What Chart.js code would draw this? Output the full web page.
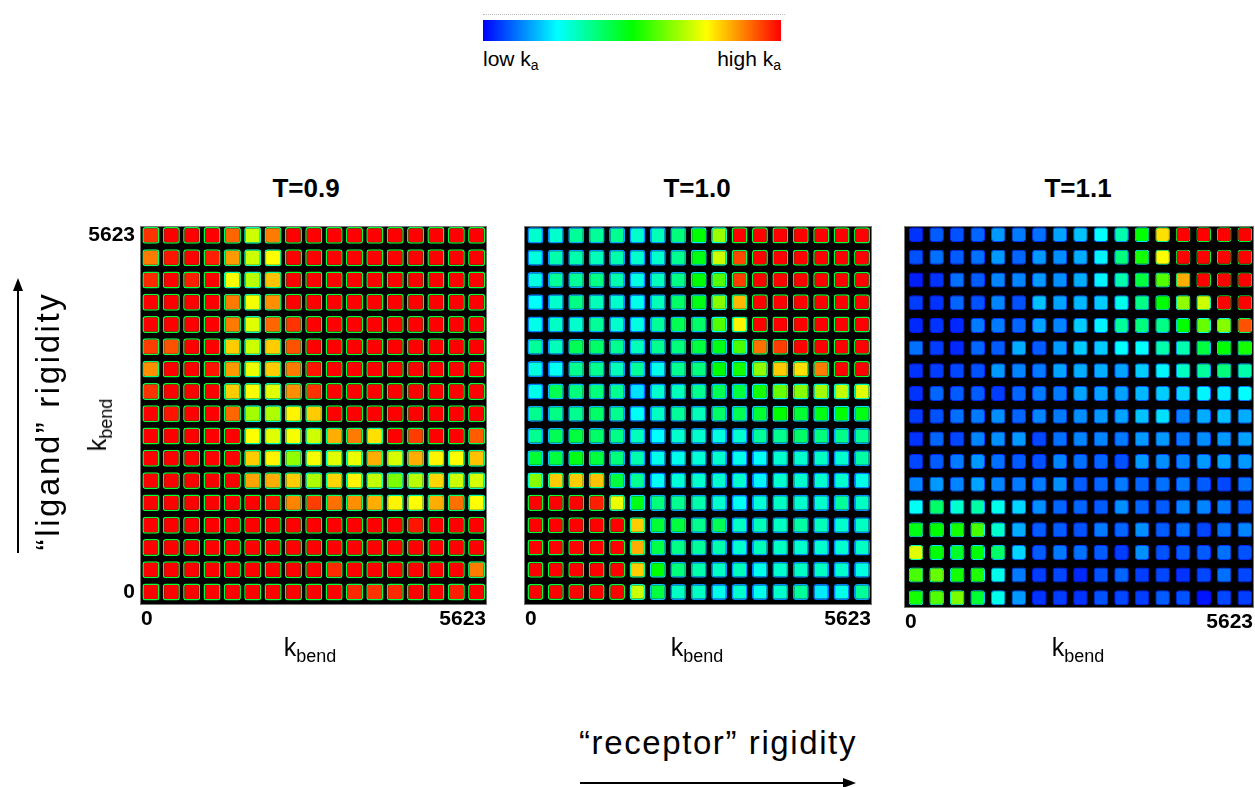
<!DOCTYPE html>
<html>
<head>
<meta charset="utf-8">
<script src="https://cdn.jsdelivr.net/npm/chart.js@4.4.1/dist/chart.umd.min.js"></script>
<style>
  body { margin: 0; width: 1255px; height: 787px; position: relative; overflow: hidden; background: #fff;
         font-family: "Liberation Sans", Arial, sans-serif; color: #000; }
  canvas { position: absolute; }
  .lbl { position: absolute; white-space: nowrap; transform: translate(-50%, -50%); }
  .title { font-weight: bold; font-size: 26px; }
  .kb { font-size: 25px; }
  .kb sub { font-size: 18px; vertical-align: -6px; }
  .rot { transform: translate(-50%, -50%) rotate(-90deg); }
  .big { font-size: 33px; }
  .cb { position: absolute; left: 483px; top: 20px; width: 298px; height: 21px; }
  .cbline { position: absolute; left: 483px; top: 14px; width: 302px; border-top: 1px dotted #bbb; }
  .cblab { position: absolute; top: 47px; font-size: 21px; }
  .cblab sub { font-size: 14px; vertical-align: -4px; }
</style>
</head>
<body>

<div class="cbline"></div>
<div class="cb" id="cbar"></div>
<div class="cblab" style="left:483px">low k<sub>a</sub></div>
<div class="cblab" style="right:474px">high k<sub>a</sub></div>

<div class="lbl title" id="t0" style="left:306px;top:188px"></div>
<div class="lbl title" id="t1" style="left:697px;top:188px"></div>
<div class="lbl title" id="t2" style="left:1078px;top:188px"></div>

<canvas id="p0" width="432" height="429" style="left:60px;top:206px"></canvas>
<canvas id="p1" width="362" height="429" style="left:515px;top:206px"></canvas>
<canvas id="p2" width="360" height="432" style="left:895px;top:206px"></canvas>

<div class="lbl kb" style="left:310px;top:650px">k<sub>bend</sub></div>
<div class="lbl kb" style="left:697px;top:650px">k<sub>bend</sub></div>
<div class="lbl kb" style="left:1078px;top:650px">k<sub>bend</sub></div>
<div class="lbl kb rot" style="left:100px;top:425px">k<sub>bend</sub></div>

<div class="lbl big rot" style="left:48px;top:421px;letter-spacing:2.6px">“ligand” rigidity</div>
<div class="lbl big" style="left:718px;top:743px;letter-spacing:1.6px">“receptor” rigidity</div>

<svg width="1255" height="787" style="position:absolute;left:0;top:0;pointer-events:none">
  <line x1="18" y1="553" x2="18" y2="288" stroke="#000" stroke-width="2"/>
  <polygon points="18,278 13,291 23,291" fill="#000"/>
  <line x1="580" y1="783" x2="845" y2="783" stroke="#000" stroke-width="2"/>
  <polygon points="856,783 843,778 843,788" fill="#000"/>
</svg>

<script>
const titles = ['T=0.9', 'T=1.0', 'T=1.1'];
const xTickLabels = ['0', '5623'];
const yTickLabels = ['0', '5623'];

// relative ka (0 = low / blue, 1 = high / red), rows from top (high k_bend) to bottom
const kaT09 = [
  [0.95,1,1,1,0.9,0.7,0.88,1,1,1,1,1,1,1,1,1,1],
  [0.88,0.98,1,0.97,0.85,0.7,0.75,1,1,1,1,1,1,1,1,1,1],
  [0.96,1,0.97,1,0.75,0.68,0.81,1,1,1,1,1,1,1,1,1,1],
  [1,1,1,1,0.88,0.74,0.86,1,1,1,1,1,1,1,1,1,1],
  [1,1,1,1,0.88,0.72,0.9,0.95,1,1,1,1,1,1,1,1,1],
  [0.94,0.92,1,1,0.8,0.7,0.8,0.92,1,1,1,1,1,1,1,1,1],
  [0.86,1,1,0.98,0.85,0.73,0.8,0.88,0.98,1,1,1,1,1,1,1,1],
  [0.95,1,1,1,0.8,0.75,0.72,0.86,0.95,1,1,1,1,1,1,1,1],
  [1,0.98,1,1,0.9,0.66,0.67,0.76,0.8,1,1,1,1,1,1,1,1],
  [1,1,1,1,1,0.75,0.72,0.74,0.7,0.83,0.88,0.78,1,0.94,1,1,0.91],
  [1,1,1,1,1,0.8,0.76,0.64,0.74,0.72,0.73,0.83,0.71,0.83,0.76,0.75,0.81],
  [1,1,1,1,1,0.84,0.83,0.8,0.67,0.79,0.76,0.69,0.62,0.68,0.79,0.7,0.71],
  [1,1,1,1,1,1,0.98,0.87,0.94,0.89,0.86,0.83,0.76,0.75,0.83,0.89,0.75],
  [1,1,1,1,1,1,1,1,1,1,1,1,1,0.98,1,1,1],
  [1,1,1,1,1,1,1,1,1,1,1,1,1,1,1,1,1],
  [1,1,1,1,1,1,1,1,1,0.96,1,1,1,1,1,1,0.88],
  [1,1,1,1,1,1,1,1,1,1,0.96,0.95,0.96,1,1,0.97,1]
];

const kaT10 = [
  [0.3,0.3,0.35,0.35,0.36,0.3,0.32,0.38,0.5,0.65,1,1,1,1,1,1,1],
  [0.28,0.33,0.33,0.32,0.33,0.3,0.3,0.36,0.48,0.7,0.93,1,1,1,1,1,1],
  [0.28,0.35,0.35,0.37,0.33,0.28,0.32,0.37,0.5,0.58,0.94,1,1,1,1,1,1],
  [0.25,0.3,0.37,0.32,0.3,0.27,0.32,0.4,0.48,0.63,0.82,1,1,1,1,1,1],
  [0.27,0.31,0.3,0.35,0.3,0.28,0.35,0.42,0.4,0.58,0.76,1,1,1,1,1,1],
  [0.35,0.32,0.42,0.4,0.36,0.32,0.36,0.38,0.44,0.48,0.57,0.89,0.94,1,1,1,1],
  [0.28,0.26,0.36,0.36,0.32,0.35,0.27,0.36,0.38,0.5,0.52,0.64,0.8,0.78,0.88,1,1],
  [0.27,0.42,0.38,0.38,0.36,0.22,0.3,0.32,0.36,0.42,0.44,0.52,0.6,0.63,0.66,0.69,0.72],
  [0.36,0.37,0.36,0.4,0.36,0.26,0.31,0.35,0.32,0.4,0.42,0.45,0.5,0.45,0.48,0.5,0.48],
  [0.36,0.42,0.44,0.4,0.37,0.32,0.25,0.3,0.3,0.28,0.3,0.35,0.36,0.4,0.38,0.37,0.36],
  [0.45,0.44,0.48,0.44,0.38,0.33,0.27,0.27,0.29,0.3,0.27,0.26,0.3,0.3,0.31,0.3,0.34],
  [0.63,0.8,0.8,0.81,0.44,0.36,0.26,0.29,0.3,0.3,0.3,0.24,0.3,0.3,0.3,0.3,0.27],
  [1,1,1,0.97,0.73,0.48,0.38,0.36,0.33,0.3,0.26,0.29,0.31,0.3,0.3,0.35,0.31],
  [1,1,1,1,1,0.8,0.45,0.44,0.36,0.42,0.31,0.32,0.31,0.34,0.32,0.3,0.31],
  [1,1,1,1,1,0.83,0.43,0.37,0.35,0.33,0.3,0.32,0.31,0.3,0.3,0.3,0.31],
  [1,1,1,1,1,0.8,0.5,0.38,0.33,0.31,0.32,0.27,0.3,0.31,0.31,0.3,0.28],
  [1,1,1,1,1,0.7,0.44,0.31,0.31,0.27,0.3,0.27,0.3,0.35,0.23,0.27,0.35]
];

const kaT11 = [
  [0.05,0.09,0.08,0.1,0.15,0.12,0.11,0.16,0.19,0.25,0.33,0.5,0.78,1,1,1,1],
  [0.08,0.11,0.09,0.11,0.15,0.1,0.15,0.14,0.17,0.24,0.38,0.52,0.75,1,1,1,1],
  [0.03,0.05,0.11,0.09,0.13,0.13,0.15,0.14,0.17,0.24,0.33,0.44,0.58,0.83,1,1,1],
  [0.06,0.05,0.1,0.08,0.13,0.08,0.19,0.16,0.18,0.2,0.27,0.37,0.5,0.64,0.7,1,1],
  [0.04,0.05,0.04,0.12,0.12,0.1,0.16,0.13,0.2,0.24,0.35,0.38,0.37,0.5,0.6,0.63,0.92],
  [0.11,0.06,0.04,0.1,0.09,0.17,0.09,0.15,0.2,0.2,0.25,0.25,0.33,0.33,0.44,0.5,0.52],
  [0.05,0.06,0.07,0.08,0.15,0.13,0.12,0.16,0.17,0.17,0.16,0.2,0.24,0.31,0.35,0.38,0.33],
  [0.05,0.1,0.09,0.09,0.06,0.1,0.12,0.12,0.16,0.16,0.16,0.18,0.2,0.21,0.24,0.23,0.25],
  [0.06,0.08,0.11,0.12,0.14,0.1,0.13,0.12,0.14,0.15,0.16,0.19,0.22,0.13,0.17,0.19,0.17],
  [0.05,0.1,0.07,0.13,0.14,0.15,0.07,0.11,0.13,0.13,0.12,0.15,0.15,0.12,0.14,0.15,0.16],
  [0.07,0.09,0.12,0.15,0.11,0.09,0.08,0.13,0.11,0.1,0.08,0.15,0.14,0.13,0.15,0.16,0.15],
  [0.13,0.15,0.13,0.16,0.13,0.12,0.12,0.14,0.09,0.1,0.12,0.1,0.11,0.12,0.09,0.07,0.11],
  [0.26,0.4,0.3,0.34,0.27,0.21,0.14,0.1,0.1,0.09,0.14,0.1,0.09,0.13,0.13,0.12,0.09],
  [0.48,0.5,0.52,0.57,0.3,0.17,0.09,0.09,0.08,0.12,0.1,0.14,0.09,0.11,0.07,0.11,0.13],
  [0.72,0.5,0.46,0.5,0.4,0.21,0.09,0.12,0.11,0.09,0.06,0.14,0.08,0.09,0.09,0.11,0.08],
  [0.57,0.6,0.52,0.53,0.27,0.12,0.06,0.07,0.04,0.08,0.1,0.06,0.07,0.05,0.07,0.11,0.07],
  [0.52,0.58,0.62,0.45,0.27,0.15,0.05,0.06,0.05,0.08,0.07,0.06,0.09,0.08,0.02,0.07,0.06]
];

// colour scale of the bar at the top: blue -> cyan -> green -> yellow -> red
const mapStops = [0, 0.25, 0.5, 0.75, 1];
const mapColors = [[0,0,255],[0,255,255],[0,255,0],[255,255,0],[255,0,0]];

function ka2color(v) {
  v = Math.max(0, Math.min(1, v));
  for (let i = 1; i < mapStops.length; i++) {
    if (v <= mapStops[i]) {
      const f = (v - mapStops[i-1]) / (mapStops[i] - mapStops[i-1]);
      const a = mapColors[i-1], b = mapColors[i];
      return 'rgb(' + a.map((c, k) => Math.round(c + (b[k] - c) * f)).join(',') + ')';
    }
  }
  return 'rgb(255,0,0)';
}

document.getElementById('cbar').style.background =
  'linear-gradient(to right,' + mapStops.map((s, i) => 'rgb(' + mapColors[i].join(',') + ') ' + (s*100) + '%').join(',') + ')';
titles.forEach((t, i) => document.getElementById('t' + i).textContent = t);

Chart.defaults.font.family = "'Liberation Sans', Arial, sans-serif";
Chart.defaults.color = '#000';

const frame = {
  id: 'frame',
  beforeDatasetsDraw(chart) {
    const a = chart.chartArea, ctx = chart.ctx;
    ctx.save();
    ctx.fillStyle = '#000';
    ctx.fillRect(a.left, a.top, a.width, a.height);
    ctx.restore();
  },
  afterDatasetsDraw(chart) {
    const a = chart.chartArea, ctx = chart.ctx;
    ctx.save();
    ctx.strokeStyle = '#777';
    ctx.lineWidth = 1;
    ctx.strokeRect(a.left - 0.5, a.top + 0.5, a.width + 1, a.height - 1);
    ctx.restore();
  }
};

const tickFont = { size: 21, weight: 'bold' };

function makePanel(id, grid, o) {
  const n = grid.length;
  const datasets = grid.map((row, r) => {
    const yc = n - 1 - r;
    return {
      data: row.map((v, c) => ({ x: c, y: [yc - o.half, yc + o.half] })),
      backgroundColor: row.map(v => ka2color(v)),
      borderColor: row.map(v => ka2color(v * 0.45)),
      borderWidth: o.rim,
      borderRadius: 3,
      borderSkipped: false,
      grouped: false,
      barPercentage: o.bar,
      categoryPercentage: 1
    };
  });

  new Chart(document.getElementById(id), {
    type: 'bar',
    data: { datasets },
    options: {
      responsive: false,
      animation: false,
      layout: { padding: o.pad },
      plugins: { legend: { display: false }, tooltip: { enabled: false } },
      scales: {
        x: {
          type: 'linear', offset: false, min: o.xr[0], max: o.xr[1],
          grid: { display: false, drawTicks: false }, border: { display: false },
          afterBuildTicks: s => { s.ticks = [{ value: s.min }, { value: s.max }]; },
          afterFit: s => { s.height = 30; },
          ticks: { align: 'inner', padding: 2, maxRotation: 0, autoSkip: false, font: tickFont,
                   callback: (v, i) => xTickLabels[i] }
        },
        y: {
          type: 'linear', display: o.showY, min: o.yr[0], max: o.yr[1],
          grid: { display: false, drawTicks: false }, border: { display: false },
          afterBuildTicks: s => { s.ticks = [{ value: 0 }, { value: n - 1 }]; },
          afterFit: s => { s.width = o.showY ? 81 : 0; },
          ticks: { padding: 6, autoSkip: false, font: tickFont,
                   callback: (v, i) => yTickLabels[i] }
        }
      }
    },
    plugins: [frame]
  });
}

makePanel('p0', kaT09, { showY: true, pad: { top: 20, right: 6, left: 0, bottom: 0 },
  xr: [-0.49, 16.46], yr: [-0.58, 16.42], bar: 0.84, half: 0.38, rim: 1.5 });
makePanel('p1', kaT10, { showY: false, pad: { top: 20, right: 6, left: 10, bottom: 0 },
  xr: [-0.51, 16.44], yr: [-0.58, 16.42], bar: 0.78, half: 0.36, rim: 1.5 });
makePanel('p2', kaT11, { showY: false, pad: { top: 20, right: 2, left: 10, bottom: 0 },
  xr: [-0.54, 16.4], yr: [-0.45, 16.38], bar: 0.71, half: 0.33, rim: 1 });
</script>
</body>
</html>
